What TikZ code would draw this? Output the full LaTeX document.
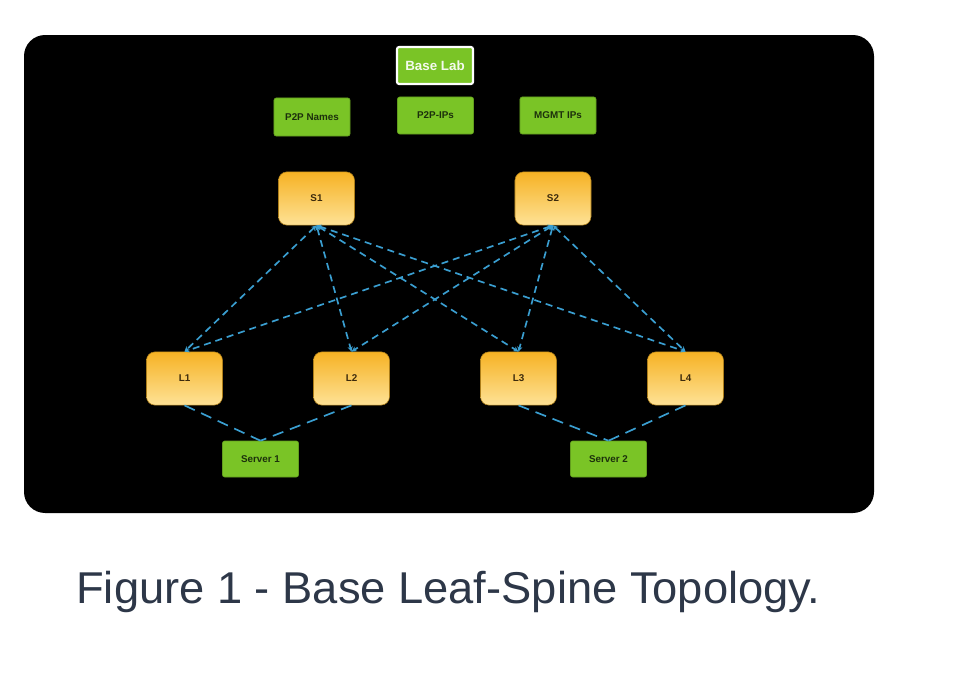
\documentclass[tikz,border=0pt]{standalone}
\usepackage{fontspec}
\setmainfont{Liberation Sans}
\usepackage{tikz}
\usetikzlibrary{positioning,calc,arrows.meta}
\definecolor{labgreen}{RGB}{122,196,38}
\definecolor{labtext}{RGB}{28,48,12}
\definecolor{devtop}{RGB}{246,178,36}
\definecolor{devbot}{RGB}{254,226,150}
\definecolor{devtext}{RGB}{60,42,12}
\definecolor{linkblue}{RGB}{58,158,208}
\definecolor{captiongray}{RGB}{45,55,72}

\begin{document}
\begin{tikzpicture}[x=0.025cm,y=-0.025cm,
  lab/.style={draw=labgreen!80!black,fill=labgreen,rounded corners=1.5pt,align=center,
              font=\fontsize{7}{8}\selectfont\bfseries,text=labtext,
              minimum width=1.9cm,minimum height=0.95cm,inner sep=1pt},
  dev/.style={draw=devtop!70!black,rounded corners=6pt,top color=devtop,bottom color=devbot,
              font=\fontsize{7}{8}\selectfont\bfseries,text=devtext,
              minimum width=1.9cm,minimum height=1.33cm,inner sep=1pt},
  link/.style={{Stealth[length=1.3mm,width=1.3mm]}-{Stealth[length=1.3mm,width=1.3mm]},
               line width=1.2pt,color=linkblue,dash pattern=on 5pt off 3.5pt},
  hlink/.style={line width=1.2pt,color=linkblue,dash pattern=on 8pt off 5pt}]
  \useasboundingbox (0,0) rectangle (960,672);
  \fill[white] (0,0) rectangle (960,672);
  \fill[black,rounded corners=15] (24,35) rectangle (874,513);
  \node[lab,draw=white,line width=1.5pt,text=white!92!labgreen,minimum height=0.925cm,
        font=\fontsize{9.5}{11}\selectfont\bfseries] (base) at (435,65.5) {Base Lab};
  \node[lab] (names) at (312,117) {P2P Names};
  \node[lab,minimum height=0.925cm] (ips)   at (435.5,115.5) {P2P-IPs};
  \node[lab,minimum height=0.925cm] (mgmt)  at (558,115.5) {MGMT IPs};
  \node[dev] (s1) at (316.5,198.5) {S1};
  \node[dev] (s2) at (553,198.5) {S2};
  \node[dev] (l1) at (184.5,378.5) {L1};
  \node[dev] (l2) at (351.5,378.5) {L2};
  \node[dev] (l3) at (518.5,378.5) {L3};
  \node[dev] (l4) at (685.5,378.5) {L4};
  \node[lab,minimum height=0.9cm] (srv1) at (260.5,459) {Server 1};
  \node[lab,minimum height=0.9cm] (srv2) at (608.5,459) {Server 2};
  \foreach \s in {s1,s2}
    \foreach \l in {l1,l2,l3,l4}
      \draw[link] (\s.south) -- (\l.north);
  \draw[hlink] (l1.south) -- (srv1.north);
  \draw[hlink] (l2.south) -- (srv1.north);
  \draw[hlink] (l3.south) -- (srv2.north);
  \draw[hlink] (l4.south) -- (srv2.north);
  \node[anchor=base west,inner sep=0pt,text=captiongray,xscale=1.016,
        font=\fontsize{31.7}{36}\selectfont] (cap) at (76,603) {Figure 1 - Base Leaf-Spine Topology.};
\end{tikzpicture}
\end{document}
